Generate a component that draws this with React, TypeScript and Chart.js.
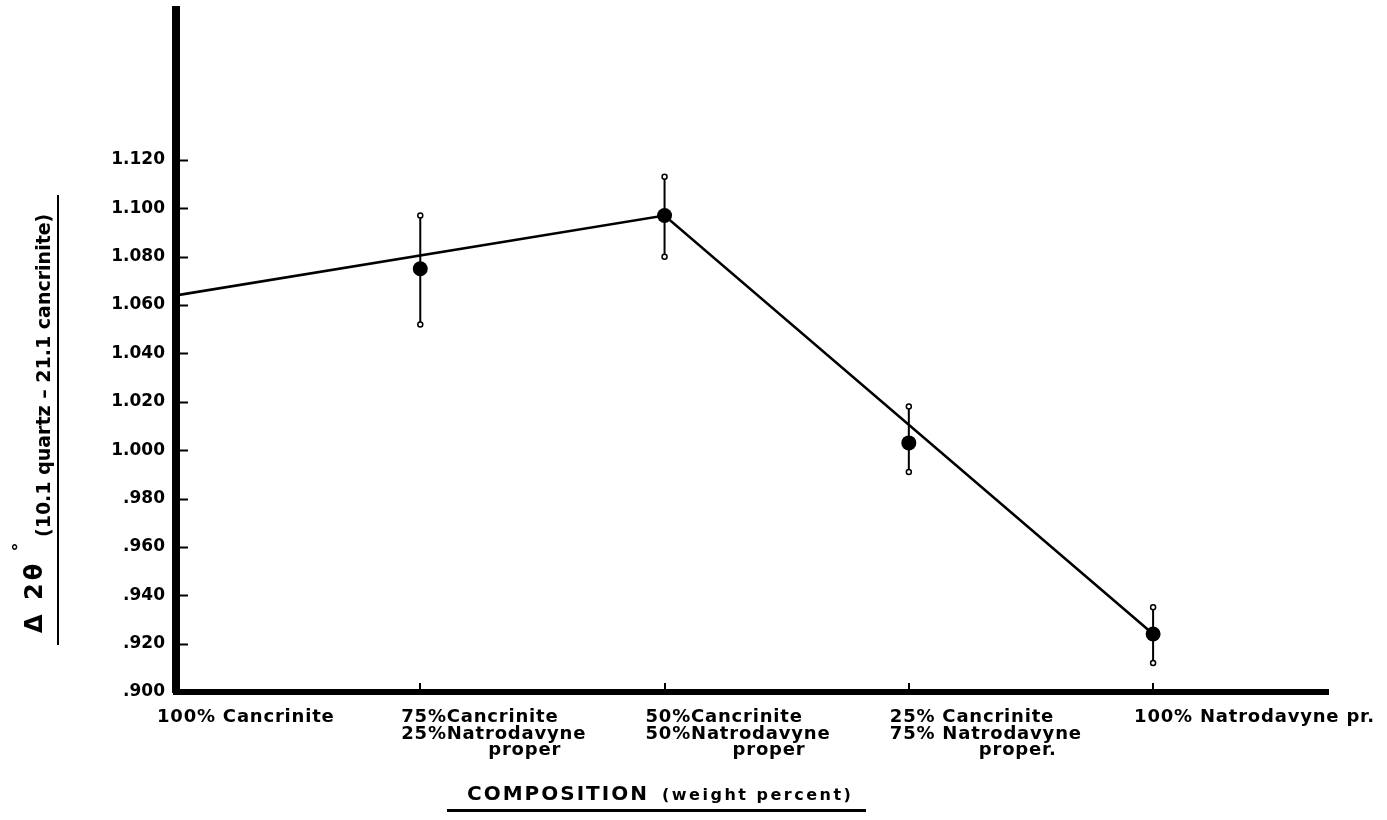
import { useEffect, useRef } from "react";
import { Chart, registerables } from "chart.js";

Chart.register(...registerables);

// Composition categories placed along the x axis (0 = pure cancrinite, 4 = pure natrodavyne)
const compositionPos = [0, 1, 2, 3, 4];
const compositionLabels: string[][] = [
  ["100% Cancrinite"],
  ["75%Cancrinite", "25%Natrodavyne", "proper"],
  ["50%Cancrinite", "50%Natrodavyne", "proper"],
  ["25% Cancrinite", "75% Natrodavyne", "proper."],
  ["100% Natrodavyne pr."],
];

// Measured Δ2θ values with their error limits
const delta2Theta = [1.064, 1.075, 1.097, 1.003, 0.924];
const errorHigh = [1.088, 1.097, 1.113, 1.018, 0.935];
const errorLow = [1.053, 1.052, 1.08, 0.991, 0.912];
const markerRadius = [0, 7.5, 7.5, 7.5, 7.5];
const capRadius = [0, 2.5, 2.5, 2.5, 2.5];

// Trend line through the end members and the 50/50 mixture
const trendPos = [0, 2, 4];
const trendValues = [1.064, 1.097, 0.924];

// Axis ranges
const yMin = 0.9;
const yMax = 1.182;
const yStep = 0.02;
const yLastLabel = 1.12;
const xMin = 0;
const xMax = 4.716;

const FONT = '"DejaVu Sans", "Liberation Sans", sans-serif';

const formatTick = (v: number) => {
  const s = v.toFixed(3);
  return v < 1 ? s.slice(1) : s;
};

const decorPlugin = {
  id: "decor",
  afterDraw(chart: any) {
    const { ctx, chartArea: area } = chart;
    const xs = chart.scales.x;
    const ys = chart.scales.y;
    ctx.save();
    ctx.fillStyle = "#000";
    ctx.strokeStyle = "#000";
    ctx.lineCap = "butt";

    // inward tick marks on the value axis
    ctx.lineWidth = 2;
    ys.ticks.forEach((t: any) => {
      if (t.value <= yMin + 1e-6 || t.value > yLastLabel + 1e-6) return;
      const y = Math.round(ys.getPixelForValue(t.value)) + 0.5;
      ctx.beginPath();
      ctx.moveTo(area.left, y);
      ctx.lineTo(area.left + 12, y);
      ctx.stroke();
    });

    // small upward marks at each composition
    compositionPos.forEach((p) => {
      if (p === 0) return;
      const x = Math.round(xs.getPixelForValue(p));
      ctx.beginPath();
      ctx.moveTo(x, area.bottom);
      ctx.lineTo(x, area.bottom - 9);
      ctx.stroke();
    });

    // composition labels
    ctx.font = `bold 18px ${FONT}`;
    (ctx as any).letterSpacing = "0.8px";
    ctx.textAlign = "left";
    ctx.textBaseline = "alphabetic";
    const lineOffsets = [30, 47, 63];
    compositionLabels.forEach((lines, i) => {
      const x0 = xs.getPixelForValue(compositionPos[i]) - 19;
      lines.forEach((txt, j) => {
        let x = x0;
        if (j === 2) {
          const wPrev = ctx.measureText(lines[1]).width;
          const w = ctx.measureText(txt).width;
          x = x0 + wPrev - w - 25;
        }
        ctx.fillText(txt, x, area.bottom + lineOffsets[j]);
      });
    });

    // x axis title
    ctx.font = `bold 20px ${FONT}`;
    (ctx as any).letterSpacing = "2px";
    ctx.fillText("COMPOSITION", 467, 800);
    ctx.font = `bold 16px ${FONT}`;
    (ctx as any).letterSpacing = "2.5px";
    ctx.fillText("(weight percent)", 662, 800);
    ctx.lineWidth = 3;
    ctx.beginPath();
    ctx.moveTo(447, 810.5);
    ctx.lineTo(866, 810.5);
    ctx.stroke();

    // y axis title, reading upward
    ctx.save();
    ctx.translate(42, 633);
    ctx.rotate(-Math.PI / 2);
    ctx.font = `bold 24px ${FONT}`;
    (ctx as any).letterSpacing = "3px";
    ctx.fillText("Δ 2θ", 0, 0);
    ctx.font = `bold 18px ${FONT}`;
    (ctx as any).letterSpacing = "0px";
    ctx.textAlign = "center";
    ctx.fillText("°", 86, -17);
    ctx.textAlign = "left";
    ctx.font = `bold 19px ${FONT}`;
    ctx.fillText("(10.1 quartz – 21.1 cancrinite)", 96, 8);
    ctx.restore();
    ctx.lineWidth = 2;
    ctx.beginPath();
    ctx.moveTo(58, 195);
    ctx.lineTo(58, 645);
    ctx.stroke();

    ctx.restore();
  },
};

export default function App() {
  const canvasRef = useRef<HTMLCanvasElement | null>(null);

  useEffect(() => {
    const canvas = canvasRef.current;
    if (!canvas) return;

    const errorData: { x: number; y: number | null }[] = [];
    const errorRadius: number[] = [];
    compositionPos.forEach((p, i) => {
      errorData.push({ x: p, y: errorLow[i] });
      errorData.push({ x: p, y: errorHigh[i] });
      errorData.push({ x: p, y: null });
      errorRadius.push(capRadius[i], capRadius[i], 0);
    });

    const chart = new Chart(canvas, {
      type: "line",
      data: {
        datasets: [
          {
            label: "measured",
            data: compositionPos.map((p, i) => ({ x: p, y: delta2Theta[i] })),
            showLine: false,
            pointRadius: markerRadius,
            pointBackgroundColor: "#000",
            pointBorderColor: "#000",
            pointBorderWidth: 0,
            order: 0,
          },
          {
            label: "trend",
            data: trendPos.map((p, i) => ({ x: p, y: trendValues[i] })),
            borderColor: "#000",
            borderWidth: 2.6,
            pointRadius: 0,
            tension: 0,
            order: 1,
          },
          {
            label: "error",
            data: errorData as any,
            borderColor: "#000",
            borderWidth: 2,
            spanGaps: false,
            pointRadius: errorRadius,
            pointBackgroundColor: "#fff",
            pointBorderColor: "#000",
            pointBorderWidth: 1.5,
            order: 2,
          },
        ],
      },
      options: {
        responsive: false,
        animation: false,
        layout: { padding: { top: 10, right: 59, left: 0, bottom: 0 } },
        plugins: {
          legend: { display: false },
          tooltip: { enabled: false },
        },
        scales: {
          x: {
            type: "linear",
            min: xMin,
            max: xMax,
            grid: { display: false, drawTicks: false },
            border: { display: true, width: 6, color: "#000" },
            ticks: { display: false },
            afterFit: (s: any) => {
              s.height = 128;
              s.paddingLeft = 0;
              s.paddingRight = 0;
            },
          },
          y: {
            type: "linear",
            min: yMin,
            max: yMax,
            z: 1,
            grid: { display: false, drawTicks: false },
            border: { display: true, width: 8, color: "#000" },
            ticks: {
              stepSize: yStep,
              padding: 11,
              color: "#000",
              font: { family: FONT, size: 17, weight: "bold" },
              callback: (value: any) => {
                const v = Number(value);
                if (v > yLastLabel + 1e-6) return "";
                return formatTick(v);
              },
            },
            afterFit: (s: any) => {
              s.width = 176;
              s.paddingTop = 0;
              s.paddingBottom = 0;
            },
          },
        },
      },
      plugins: [decorPlugin],
    });

    return () => chart.destroy();
  }, []);

  return (
    <div style={{ position: "absolute", left: 0, top: 0, width: 1387, height: 820, background: "#fff" }}>
      <canvas ref={canvasRef} width={1387} height={820} style={{ display: "block" }} />
    </div>
  );
}
